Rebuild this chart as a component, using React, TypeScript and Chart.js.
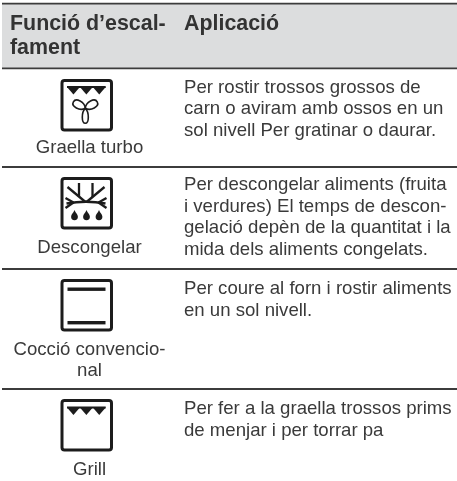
import React, { useEffect, useRef } from "react";
import { Chart, registerables } from "chart.js";

Chart.register(...registerables);

const W = 457;
const H = 481;

// Table content
const headerLines = ["Funció d’escal-", "fament"];
const headerRight = "Aplicació";
const functionLabels = [["Graella turbo"], ["Descongelar"], ["Cocció convencio-", "nal"], ["Grill"]];
const applicationLines = [
  ["Per rostir trossos grossos de", "carn o aviram amb ossos en un", "sol nivell Per gratinar o daurar."],
  ["Per descongelar aliments (fruita", "i verdures) El temps de descon-", "gelació depèn de la quantitat i la", "mida dels aliments congelats."],
  ["Per coure al forn i rostir aliments", "en un sol nivell."],
  ["Per fer a la graella trossos prims", "de menjar i per torrar pa"],
];
const iconKinds = ["turbo", "defrost", "conventional", "grill"];

// Positions on the table's value axes
const ruleRows = [3.7, 68.3, 167, 269, 389];
const iconTops = [79, 177, 279, 399];
const labelBaselines = [[153], [252.5], [354.5, 375.5], [474.5]];
const textBaselines = [
  [92.5, 114, 136],
  [190, 211.5, 233, 255],
  [293.5, 315.5],
  [413.5, 435.5],
];
const headerBaselines = [29.5, 53.5];

const TEXT = "#3a3a3a";

function triangles(ctx: CanvasRenderingContext2D, x0: number, y0: number) {
  const w = 12.9;
  ctx.fillStyle = "#1c1c1c";
  ctx.fillRect(x0, y0, 3 * w, 2);
  for (let i = 0; i < 3; i++) {
    ctx.beginPath();
    ctx.moveTo(x0 + i * w, y0 + 1);
    ctx.lineTo(x0 + (i + 1) * w, y0 + 1);
    ctx.lineTo(x0 + (i + 0.5) * w, y0 + 8.5);
    ctx.closePath();
    ctx.fill();
  }
}

function lobe(ctx: CanvasRenderingContext2D, cx: number, cy: number, angle: number, len: number, wid: number) {
  ctx.save();
  ctx.translate(cx, cy);
  ctx.rotate(angle);
  ctx.beginPath();
  ctx.moveTo(0, 0);
  ctx.bezierCurveTo(wid, len * 0.25, wid, len, 0, len);
  ctx.bezierCurveTo(-wid, len, -wid, len * 0.25, 0, 0);
  ctx.stroke();
  ctx.restore();
}

function drop(ctx: CanvasRenderingContext2D, cx: number, top: number) {
  ctx.beginPath();
  ctx.moveTo(cx, top);
  ctx.bezierCurveTo(cx + 1, top + 3, cx + 3.4, top + 4, cx + 3.4, top + 6.8);
  ctx.arc(cx, top + 6.8, 3.4, 0, Math.PI);
  ctx.bezierCurveTo(cx - 3.4, top + 4, cx - 1, top + 3, cx, top);
  ctx.fill();
}

function segs(ctx: CanvasRenderingContext2D, ox: number, oy: number, pts: number[][]) {
  for (const p of pts) {
    ctx.beginPath();
    ctx.moveTo(ox + p[0], oy + p[1]);
    ctx.lineTo(ox + p[2], oy + p[3]);
    ctx.stroke();
  }
}

function drawIcon(ctx: CanvasRenderingContext2D, kind: string, x: number, y: number) {
  ctx.save();
  ctx.lineCap = "butt";
  ctx.strokeStyle = "#1c1c1c";
  ctx.fillStyle = "#1c1c1c";
  ctx.lineWidth = 3;
  ctx.beginPath();
  ctx.roundRect(x + 1.5, y + 1.5, 49.5, 49.5, 2.5);
  ctx.stroke();
  if (kind === "turbo") {
    triangles(ctx, x + 6.5, y + 7);
    ctx.lineWidth = 1.6;
    lobe(ctx, x + 24.8, y + 29.3, -Math.PI * 0.656, 13.5, 5.3);
    lobe(ctx, x + 24.8, y + 29.3, Math.PI * 0.656, 13.5, 5.3);
    lobe(ctx, x + 24.8, y + 29.3, 0, 15, 4);
  } else if (kind === "defrost") {
    ctx.lineWidth = 2.3;
    ctx.beginPath();
    ctx.moveTo(x + 6, y + 26.5);
    ctx.quadraticCurveTo(x + 25.5, y + 23, x + 45, y + 26.5);
    ctx.stroke();
    segs(ctx, x, y, [
      [5, 21, 13, 25.5],
      [46, 21, 38, 25.5],
      [5, 31, 13, 25.5],
      [46, 31, 38, 25.5],
      [25, 25, 7, 10],
      [26, 25, 44, 10],
      [18.5, 20, 18.5, 6],
      [32, 20, 32, 6],
    ]);
    drop(ctx, x + 14, y + 33);
    drop(ctx, x + 26, y + 33);
    drop(ctx, x + 38.5, y + 33);
  } else if (kind === "conventional") {
    ctx.fillRect(x + 7, y + 8.5, 38, 3.4);
    ctx.fillRect(x + 7, y + 42, 38, 3.4);
  } else {
    triangles(ctx, x + 6.5, y + 7.5);
  }
  ctx.restore();
}

const tablePlugin = {
  id: "tableText",
  afterDatasetsDraw(chart: any) {
    const { ctx, scales } = chart;
    const px = (v: number) => scales.x.getPixelForValue(v);
    const py = (v: number) => scales.y.getPixelForValue(v);
    ctx.save();
    ctx.textBaseline = "alphabetic";
    ctx.fillStyle = "#333333";
    ctx.font = "bold 21.4px 'Liberation Sans', Arial, sans-serif";
    ctx.textAlign = "left";
    headerLines.forEach((t, i) => ctx.fillText(t, px(10), py(headerBaselines[i])));
    ctx.fillText(headerRight, px(184), py(headerBaselines[0]));

    ctx.fillStyle = TEXT;
    ctx.font = "18.6px 'Liberation Sans', Arial, sans-serif";
    applicationLines.forEach((row, r) =>
      row.forEach((t, i) => ctx.fillText(t, px(184), py(textBaselines[r][i])))
    );
    ctx.textAlign = "center";
    functionLabels.forEach((row, r) =>
      row.forEach((t, i) => ctx.fillText(t, px(89.5), py(labelBaselines[r][i])))
    );
    iconKinds.forEach((k, i) => drawIcon(ctx, k, px(60.5), py(iconTops[i])));
    ctx.restore();
  },
};

export default function App() {
  const ref = useRef<HTMLCanvasElement>(null);
  useEffect(() => {
    if (!ref.current) return;
    const bandTop = ruleRows[0];
    const bandBottom = ruleRows[1];
    const chart = new Chart(ref.current, {
      type: "line",
      data: {
        datasets: [
          {
            label: "Capçalera",
            data: [
              { x: 2, y: bandTop },
              { x: W, y: bandTop },
            ],
            borderWidth: 0,
            pointRadius: 0,
            backgroundColor: "#dcddde",
            fill: { value: bandBottom },
            order: 2,
          },
          ...ruleRows.map((r) => ({
            label: "Línia " + r,
            data: [
              { x: 2, y: r },
              { x: W, y: r },
            ],
            borderColor: "#3c3c3c",
            borderWidth: 1.8,
            pointRadius: 0,
            fill: false,
            order: 1,
          })),
        ],
      } as any,
      options: {
        animation: false,
        responsive: false,
        layout: { padding: 0 },
        plugins: { legend: { display: false }, tooltip: { enabled: false }, title: { display: false } },
        scales: {
          x: { type: "linear", display: false, min: 0, max: W },
          y: { type: "linear", display: false, min: 0, max: H, reverse: true },
        },
      },
      plugins: [tablePlugin],
    } as any);
    return () => chart.destroy();
  }, []);
  return (
    <div style={{ position: "fixed", left: 0, top: 0, width: W, height: H, background: "#ffffff" }}>
      <canvas ref={ref} width={W} height={H} style={{ display: "block", width: W, height: H }} />
    </div>
  );
}
